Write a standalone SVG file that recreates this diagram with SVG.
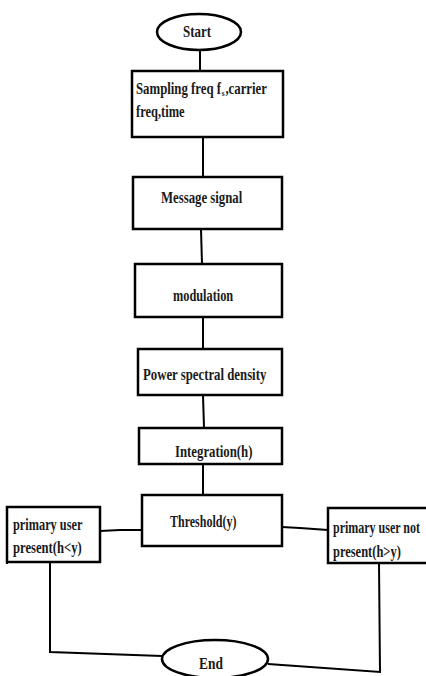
<svg xmlns="http://www.w3.org/2000/svg" width="426" height="676" viewBox="0 0 426 676">
<style>
.box{fill:#fff;stroke:#000;stroke-width:2.5}
.conn{fill:none;stroke:#000;stroke-width:2}
.t{font-family:"Liberation Serif","Times New Roman",serif;font-weight:bold;font-size:16px;fill:#1a1a1a}
</style>
<rect width="426" height="676" fill="#fff"/>
<g id="connectors">
<line class="conn" x1="200" y1="50" x2="200" y2="71"/>
<line class="conn" x1="203" y1="136" x2="203" y2="177"/>
<line class="conn" x1="201" y1="229" x2="202" y2="264"/>
<line class="conn" x1="203" y1="317" x2="203" y2="349"/>
<line class="conn" x1="203" y1="395" x2="204" y2="428"/>
<line class="conn" x1="203" y1="464" x2="203" y2="495"/>
<polyline class="conn" points="142,530 120,530 100,531"/>
<polyline class="conn" points="282,527 300,528 328,530"/>
<polyline class="conn" points="50,562 50,652 162,656"/>
<polyline class="conn" points="379,563 380,672 268,664"/>
</g>
<g id="start">
<ellipse class="box" cx="199" cy="32" rx="42" ry="18"/>
<text class="t" transform="translate(183,37) scale(0.81,1)">Start</text>
</g>
<g id="sampling">
<rect class="box" x="132" y="71" width="151" height="66"/>
<text class="t" transform="translate(136,94) scale(0.8,1)">Sampling freq f<tspan dx="1" dy="2" font-size="9">s</tspan><tspan dx="1" dy="-2">,carrier</tspan></text>
<text class="t" transform="translate(136,117) scale(0.78,1)">freq,time</text>
</g>
<g id="message">
<rect class="box" x="133" y="177" width="149" height="52"/>
<text class="t" transform="translate(161,203) scale(0.8,1)">Message signal</text>
</g>
<g id="modulation">
<rect class="box" x="135" y="264" width="147" height="53"/>
<text class="t" transform="translate(173,301) scale(0.77,1)">modulation</text>
</g>
<g id="psd">
<rect class="box" x="138" y="349" width="144" height="46"/>
<text class="t" transform="translate(143,380) scale(0.8,1)">Power spectral density</text>
</g>
<g id="integration">
<rect class="box" x="139" y="428" width="143" height="36"/>
<text class="t" transform="translate(175,457) scale(0.8,1)">Integration(h)</text>
</g>
<g id="threshold">
<rect class="box" x="142" y="495" width="140" height="51"/>
<text class="t" transform="translate(170,527) scale(0.75,1)">Threshold(y)</text>
</g>
<g id="present">
<rect class="box" x="7" y="507" width="93" height="55"/>
<line class="conn" x1="7" y1="548" x2="7" y2="564"/>
<text class="t" transform="translate(13,530) scale(0.77,1)">primary user</text>
<text class="t" transform="translate(13,553) scale(0.79,1)">present(h&lt;y)</text>
</g>
<g id="notpresent">
<rect class="box" x="328" y="508" width="100" height="55"/>
<text class="t" transform="translate(333,533) scale(0.75,1)">primary user not</text>
<text class="t" transform="translate(333,557) scale(0.78,1)">present(h&gt;y)</text>
</g>
<g id="end">
<ellipse class="box" cx="215" cy="659" rx="53" ry="19"/>
<text class="t" transform="translate(199,669) scale(0.84,1)">End</text>
</g>
</svg>
